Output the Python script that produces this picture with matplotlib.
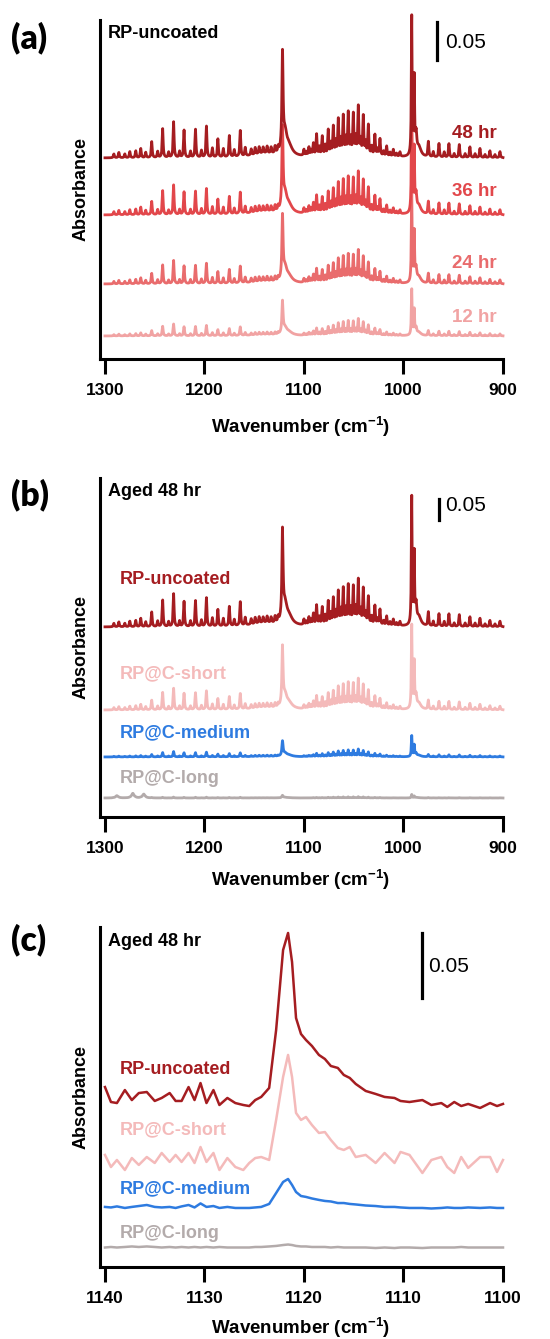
import matplotlib.pyplot as plt
import numpy as np

plt.rcParams['font.family'] = ['Liberation Sans', 'DejaVu Sans']
plt.rcParams['mathtext.fontset'] = 'custom'
plt.rcParams['mathtext.rm'] = 'Liberation Sans'
plt.rcParams['mathtext.bf'] = 'Liberation Sans:bold'

# sharp lines of the 48 hr uncoated spectrum: position (cm-1), height (mAbs)
line_pos = [1291, 1286, 1280, 1275, 1269, 1264, 1259, 1253, 1247, 1242, 1236, 1231, 1225,
            1220.5, 1214, 1209, 1203, 1198, 1192, 1186.5, 1181, 1175, 1170, 1164, 1159,
            1153, 1149, 1145, 1141, 1137, 1133, 1129, 1126,
            1100, 1095, 1090.5, 1087.3, 1081.6, 1075.6, 1070.5, 1065.5, 1060.5, 1055.5,
            1050.4, 1045.4, 1040.4, 1035.3, 1028.7, 1023.6, 1016.9, 1010.2, 1003.5,
            1097.5, 1092.8, 1084.5, 1078.6, 1073, 1068, 1063, 1058, 1053, 1048, 1043,
            1038, 1032, 1026, 1020, 1013.5, 1007,
            975, 970, 964.3, 959, 954.3, 949, 943.9, 938, 933.2, 928, 923.1, 918, 913.1, 908, 903]
line_h = [5, 7, 5, 8, 9, 12, 7, 21, 8, 38, 7, 47, 8,
          36, 8, 37, 9, 41, 12, 24, 11, 28, 9, 34, 11,
          8, 9, 9, 8, 9, 8, 9, 7,
          8, 11, 16, 28, 25, 33, 37, 46, 50, 54,
          52, 62, 50, 39, 27, 22, 13, 9, 6,
          5, 7, 11, 13, 15, 17, 19, 20, 20, 21, 18,
          15, 11, 8, 6, 5, 4,
          20, 7, 18, 7, 18, 5, 17, 5, 14, 5, 12, 4, 9, 4, 8]

# broader bands: position (cm-1), height (mAbs), half width (cm-1)
band_pos = [1121.6, 1119.0, 1115.0, 991.7, 989.2, 987.3, 984.5, 1050.0, 1140.0]
band_h = [126, 26, 12, 182, 99, 26, 13, 4, 5]
band_w = [0.7, 2.2, 4.0, 0.45, 0.45, 0.8, 2.5, 30, 15]

hours = ['48 hr', '36 hr', '24 hr', '12 hr']
hour_scale = [1.0, 0.83, 0.65, 0.33]
hour_offset = [0.2645, 0.1895, 0.0987, 0.0303]
hour_colors = ['#a51d21', '#e2474b', '#e96c6d', '#f1a3a3']

coats = ['RP-uncoated', 'RP@C-short', 'RP@C-medium', 'RP@C-long']
coat_scale = [0.92, 0.6, 0.15, 0.025]
coat_offset = [0.25, 0.1408, 0.079, 0.025]
coat_colors = ['#a51d21', '#f4baba', '#2e7be0', '#b3abab']
long_bump_pos = [1288, 1272, 1261]
long_bump_h = [3, 6, 5]

# zoom on the 1121 cm-1 band (mAbs)
wn_c = [1140.0, 1139.4, 1138.8, 1138.0, 1137.3, 1136.6, 1135.8, 1135.0, 1134.3, 1133.5,
        1132.9, 1132.3, 1131.6, 1131.0, 1130.4, 1129.8, 1129.1, 1128.5, 1127.7, 1126.9,
        1126.1, 1125.5, 1124.9, 1124.3, 1123.5, 1122.8, 1122.1, 1121.6, 1121.2, 1120.8,
        1120.3, 1119.8, 1119.2, 1118.5, 1117.9, 1117.3, 1116.6, 1116.0, 1115.4, 1114.8,
        1113.8, 1112.8, 1111.9, 1110.9, 1110.3, 1109.4, 1108.1, 1107.2, 1106.2, 1105.6,
        1104.9, 1104.2, 1103.5, 1102.3, 1101.3, 1100.6, 1100.0]
uncoated_c = [13.8, 2.3, 1.5, 11.5, 3.8, 9.2, 10.0, 3.1, 5.4, 9.2,
              3.1, 3.1, 13.8, 3.8, 16.9, 1.5, 11.5, 0.0, 5.4, 1.5,
              0.0, -0.8, 3.8, 6.2, 13.1, 57.7, 119.2, 132.3, 110.0, 66.9,
              54.6, 50.0, 45.4, 38.5, 35.4, 30.0, 28.5, 23.1, 20.8, 16.2,
              10.8, 8.5, 6.2, 5.4, 3.1, 2.3, 3.8, 0.0, 1.5, -1.5,
              2.3, -0.8, 0.8, -2.3, 1.5, -0.8, 0.8]
short_c = [6.2, -3.1, 2.3, -5.4, 3.8, -1.5, 4.6, 0.0, 7.7, 0.8,
           6.2, 0.8, 7.7, 0.0, 12.3, 0.8, 7.7, -5.4, 3.8, -3.1,
           -5.4, 0.0, 3.8, 4.6, 2.3, 33.1, 66.2, 83.1, 66.2, 38.5,
           33.1, 35.4, 29.2, 23.1, 23.8, 17.7, 11.5, 10.0, 12.3, 4.6,
           6.2, 0.0, 7.7, 0.0, 8.5, 6.2, -7.7, 2.3, 4.6, -3.1,
           -7.7, 4.6, -3.8, 4.6, 4.6, -6.9, 2.3]
medium_c = [0.8, 0.4, 1.2, 0.0, 0.8, 1.5, 2.3, 0.8, 0.4, 0.8,
            0.0, 1.2, 2.3, 0.4, 3.5, 0.8, 1.5, 0.0, 0.8, 0.0,
            0.0, 0.0, 0.4, 0.8, 3.1, 11.5, 20.0, 22.3, 17.7, 12.3,
            9.2, 8.5, 7.3, 6.2, 5.4, 5.0, 3.8, 3.8, 3.1, 2.7,
            1.9, 1.5, 0.8, 0.8, 0.4, 0.0, 0.0, -0.4, 0.0, 0.4,
            0.0, 0.0, 0.4, 0.0, 0.4, 0.0, 0.0]
long_c = [0.0, 0.4, 0.0, 0.4, 0.8, 0.4, 0.8, 0.4, 0.0, 0.4,
          0.0, 0.4, 0.0, 0.4, 0.0, 0.4, 0.0, 0.4, 0.0, 0.0,
          0.0, 0.0, 0.4, 0.4, 0.8, 1.2, 1.9, 2.3, 1.9, 1.2,
          0.8, 0.8, 0.4, 0.4, 0.4, 0.0, 0.4, 0.0, 0.0, 0.0,
          0.0, -0.4, 0.0, -0.4, 0.0, 0.0, -0.4, 0.0, 0.0, 0.0,
          0.0, 0.4, 0.0, 0.0, 0.0, 0.0, 0.0]
offset_c = [124.6, 80.0, 45.4, 15.0]

wn = np.arange(900, 1300.001, 0.1)


def lorentz(pos, h, w):
    out = np.zeros_like(wn)
    for p, a, g in zip(pos, h, w):
        out += a * g ** 2 / ((wn - p) ** 2 + g ** 2)
    return out / 1000.0


spec48 = lorentz(line_pos, line_h, [0.55] * len(line_pos)) + lorentz(band_pos, band_h, band_w)
long_extra = lorentz(long_bump_pos, long_bump_h, [1.5] * len(long_bump_pos))

W, H = 550, 1339
fig = plt.figure(figsize=(W / 100, H / 100), dpi=100)


def px_axes(x0, x1, ytop, ybot):
    return fig.add_axes([x0 / W, 1 - ybot / H, (x1 - x0) / W, (ybot - ytop) / H])


def ftext(x, y, s, **kw):
    fig.text(x / W, 1 - y / H, s, va='center', **kw)


def style(ax, ticks):
    for s in ['top', 'right']:
        ax.spines[s].set_visible(False)
    for s in ['left', 'bottom']:
        ax.spines[s].set_linewidth(2.2)
    ax.set_yticks([])
    ax.set_xticks(ticks)
    ax.set_xticklabels([str(t) for t in ticks], fontweight='bold', fontsize=12.5)
    ax.tick_params(axis='x', direction='out', length=10.5, width=2.2, pad=7)


def scalebar(ax, xf, yb, yt, tx, ty):
    ax.plot([xf, xf], [yb, yt], color='black', lw=2.3, transform=ax.transAxes, clip_on=False)
    ax.text(tx, ty, '0.05', transform=ax.transAxes, fontsize=15, va='center', ha='left')


# (a)
ax = px_axes(100, 503, 20, 359)
for i in range(3, -1, -1):
    ax.plot(wn, hour_offset[i] + hour_scale[i] * spec48, color=hour_colors[i], lw=2.0, clip_on=False)
ax.set_xlim(1305, 900)
ax.set_ylim(0, 0.446)
style(ax, [1300, 1200, 1100, 1000, 900])
scalebar(ax, 0.836, 0.882, 0.994, 0.856, 0.934)
for i, lab in enumerate(hours):
    ftext(497, [133, 191, 263, 318][i], lab, ha='right', fontsize=13.5, fontweight='bold', color=hour_colors[i])
ftext(11, 38, '(a)', family='Lato', fontsize=24, fontweight='heavy')
ftext(108, 34, 'RP-uncoated', fontsize=13, fontweight='bold')
ftext(81, 189, 'Absorbance', rotation=90, ha='center', fontsize=13, fontweight='bold')
ftext(301, 427, r'Wavenumber (cm$^{\mathbf{-1}}$)', ha='center', fontsize=13.5, fontweight='bold')

# (b)
ax = px_axes(100, 503, 478, 817)
for i in range(3, -1, -1):
    y = coat_offset[i] + coat_scale[i] * spec48
    if i == 3:
        y = y + long_extra
    ax.plot(wn, y, color=coat_colors[i], lw=2.0, clip_on=False)
ax.set_xlim(1305, 900)
ax.set_ylim(0, 0.446)
style(ax, [1300, 1200, 1100, 1000, 900])
scalebar(ax, 0.841, 0.876, 0.938, 0.856, 0.920)
for i, lab in enumerate(coats):
    ftext(120, [580, 674, 733, 779][i], lab, fontsize=13, fontweight='bold', color=coat_colors[i])
ftext(11, 495, '(b)', family='Lato', fontsize=24, fontweight='heavy')
ftext(108, 492, 'Aged 48 hr', fontsize=13, fontweight='bold')
ftext(81, 647, 'Absorbance', rotation=90, ha='center', fontsize=13, fontweight='bold')
ftext(301, 880, r'Wavenumber (cm$^{\mathbf{-1}}$)', ha='center', fontsize=13.5, fontweight='bold')

# (c)
ax = px_axes(100, 503, 927, 1267)
traces_c = [uncoated_c, short_c, medium_c, long_c]
for i in range(3, -1, -1):
    ax.plot(wn_c, (offset_c[i] + np.array(traces_c[i])) / 1000.0, color=coat_colors[i], lw=1.8, clip_on=False)
ax.set_xlim(1140.5, 1100)
ax.set_ylim(0, 0.2615)
style(ax, [1140, 1130, 1120, 1110, 1100])
scalebar(ax, 0.799, 0.791, 0.982, 0.814, 0.885)
for i, lab in enumerate(coats):
    ftext(120, [1069, 1130, 1189, 1233][i], lab, fontsize=13, fontweight='bold', color=coat_colors[i])
ftext(11, 940, '(c)', family='Lato', fontsize=24, fontweight='heavy')
ftext(108, 941, 'Aged 48 hr', fontsize=13, fontweight='bold')
ftext(81, 1097, 'Absorbance', rotation=90, ha='center', fontsize=13, fontweight='bold')
ftext(301, 1328, r'Wavenumber (cm$^{\mathbf{-1}}$)', ha='center', fontsize=13.5, fontweight='bold')

fig.savefig('out.png', dpi=100)
